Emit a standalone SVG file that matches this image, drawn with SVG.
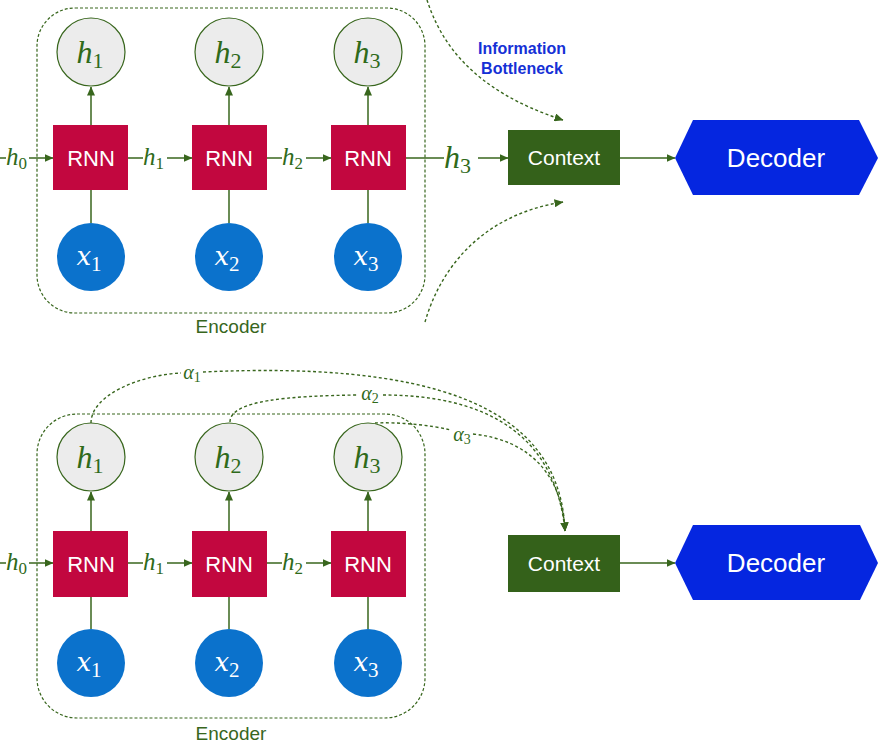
<svg xmlns="http://www.w3.org/2000/svg" width="878" height="744" viewBox="0 0 878 744">
<defs>
<marker id="arr" markerWidth="9" markerHeight="8" refX="8.5" refY="4" orient="auto" markerUnits="userSpaceOnUse">
<path d="M0,0 L9,4 L0,8 Z" fill="#38661d"/>
</marker>
</defs>
<style>
.enc{fill:none;stroke:#38661d;stroke-width:1.2;stroke-dasharray:3 2}
.hc{fill:#ececec;stroke:#38661d;stroke-width:1.2}
.rnn{fill:#c2073f}
.xc{fill:#0b72cc}
.ctx{fill:#34611a}
.dec{fill:#0526e0}
.ln{fill:none;stroke:#38661d;stroke-width:1.5}
.da{fill:none;stroke:#38661d;stroke-width:1.4;stroke-dasharray:3 2.5}
.sans{font-family:"Liberation Sans",Arial,sans-serif;fill:#fff;text-anchor:middle}
.math{font-family:"Liberation Serif","Times New Roman",serif;font-style:italic}
.up{font-style:normal}
.xv{font-family:"DejaVu Serif",serif;font-style:italic;font-size:26px}
.gm{fill:#2f6a1a}
.wm{fill:#fff}
.lbl{font-family:"Liberation Sans",Arial,sans-serif;fill:#38661d;font-size:19px;text-anchor:middle}
.ib{font-family:"Liberation Sans",Arial,sans-serif;fill:#1530d6;font-size:16px;font-weight:bold;text-anchor:middle}
</style>

<!-- ===== TOP ===== -->
<g id="top-encoder"><rect class="enc" x="37" y="8" width="388" height="305" rx="38"/><text class="lbl" x="231" y="333">Encoder</text></g>

<g id="connectors-top">
<path class="ln" d="M91,125 V87" marker-end="url(#arr)"/>
<path class="ln" d="M229,125 V87" marker-end="url(#arr)"/>
<path class="ln" d="M368,125 V87" marker-end="url(#arr)"/>
<path class="ln" d="M91,223 V190"/>
<path class="ln" d="M229,223 V190"/>
<path class="ln" d="M368,223 V190"/>
<path class="ln" d="M0,158 H6"/>
<path class="ln" d="M29,158 H53" marker-end="url(#arr)"/>
<path class="ln" d="M128,158 H143"/>
<path class="ln" d="M167,158 H192" marker-end="url(#arr)"/>
<path class="ln" d="M267,158 H282"/>
<path class="ln" d="M306,158 H331" marker-end="url(#arr)"/>
<path class="ln" d="M406,158 H444"/>
<path class="ln" d="M478,158 H508" marker-end="url(#arr)"/>
<path class="ln" d="M620,158 H675" marker-end="url(#arr)"/>
<path class="da" d="M427,0 C440,40 470,90 563,120" marker-end="url(#arr)"/>
<path class="da" d="M425,322 C440,270 480,215 563,202" marker-end="url(#arr)"/>
<text class="math gm" x="6" y="165" font-size="25">h<tspan class="up" font-size="17" dy="4">0</tspan></text>
<text class="math gm" x="143" y="165" font-size="25">h<tspan class="up" font-size="17" dy="4">1</tspan></text>
<text class="math gm" x="282" y="165" font-size="25">h<tspan class="up" font-size="17" dy="4">2</tspan></text>
<text class="math gm" x="444" y="168" font-size="32">h<tspan class="up" font-size="22" dy="5">3</tspan></text>
</g>

<g id="top-h1"><circle class="hc" cx="91" cy="52" r="34"/><text class="math gm" x="90" y="63" font-size="32" text-anchor="middle">h<tspan class="up" font-size="22" dy="5">1</tspan></text></g>
<g id="top-h2"><circle class="hc" cx="229" cy="52" r="34"/><text class="math gm" x="228" y="63" font-size="32" text-anchor="middle">h<tspan class="up" font-size="22" dy="5">2</tspan></text></g>
<g id="top-h3"><circle class="hc" cx="368" cy="52" r="34"/><text class="math gm" x="367" y="63" font-size="32" text-anchor="middle">h<tspan class="up" font-size="22" dy="5">3</tspan></text></g>

<g id="top-rnn1"><rect class="rnn" x="53" y="125" width="75" height="65"/><text class="sans" x="91" y="166" font-size="22">RNN</text></g>
<g id="top-rnn2"><rect class="rnn" x="192" y="125" width="75" height="65"/><text class="sans" x="229" y="166" font-size="22">RNN</text></g>
<g id="top-rnn3"><rect class="rnn" x="331" y="125" width="75" height="65"/><text class="sans" x="368" y="166" font-size="22">RNN</text></g>

<g id="top-x1"><circle class="xc" cx="91" cy="257" r="34"/><text class="wm" x="89" y="265" text-anchor="middle"><tspan class="xv">x</tspan><tspan class="math up" font-size="21" dy="6">1</tspan></text></g>
<g id="top-x2"><circle class="xc" cx="229" cy="257" r="34"/><text class="wm" x="227" y="265" text-anchor="middle"><tspan class="xv">x</tspan><tspan class="math up" font-size="21" dy="6">2</tspan></text></g>
<g id="top-x3"><circle class="xc" cx="368" cy="257" r="34"/><text class="wm" x="366" y="265" text-anchor="middle"><tspan class="xv">x</tspan><tspan class="math up" font-size="21" dy="6">3</tspan></text></g>

<g id="bottleneck-label"><text class="ib" x="522" y="54">Information</text><text class="ib" x="522" y="74">Bottleneck</text></g>

<g id="top-context"><rect class="ctx" x="508" y="130" width="112" height="55"/><text class="sans" x="564" y="165" font-size="21">Context</text></g>
<g id="top-decoder"><polygon class="dec" points="675,158 693,120 859,120 878,158 859,195 693,195"/><text class="sans" x="776" y="167" font-size="26">Decoder</text></g>

<!-- ===== BOTTOM ===== -->
<g id="bottom-encoder"><rect class="enc" x="37" y="414" width="388" height="304" rx="40"/><text class="lbl" x="231" y="740">Encoder</text></g>

<g id="connectors-bottom">
<path class="ln" d="M91,531 V492" marker-end="url(#arr)"/>
<path class="ln" d="M229,531 V492" marker-end="url(#arr)"/>
<path class="ln" d="M368,531 V492" marker-end="url(#arr)"/>
<path class="ln" d="M91,629 V597"/>
<path class="ln" d="M229,629 V597"/>
<path class="ln" d="M368,629 V597"/>
<path class="ln" d="M0,563 H6"/>
<path class="ln" d="M29,563 H53" marker-end="url(#arr)"/>
<path class="ln" d="M128,563 H143"/>
<path class="ln" d="M167,563 H192" marker-end="url(#arr)"/>
<path class="ln" d="M267,563 H282"/>
<path class="ln" d="M306,563 H331" marker-end="url(#arr)"/>
<path class="ln" d="M620,563 H675" marker-end="url(#arr)"/>
<text class="math gm" x="6" y="570" font-size="25">h<tspan class="up" font-size="17" dy="4">0</tspan></text>
<text class="math gm" x="143" y="570" font-size="25">h<tspan class="up" font-size="17" dy="4">1</tspan></text>
<text class="math gm" x="282" y="570" font-size="25">h<tspan class="up" font-size="17" dy="4">2</tspan></text>
<path class="da" d="M91,423 C91,395 140,375 181,373"/>
<path class="da" d="M203,372 C420,362 560,400 565,531" marker-end="url(#arr)"/>
<path class="da" d="M230,422 C230,400 290,396 357,395"/>
<path class="da" d="M383,395 C480,395 555,430 565,531" marker-end="url(#arr)"/>
<path class="da" d="M375,423 C400,422 430,425 451,430"/>
<path class="da" d="M473,434 C530,440 562,475 565,531" marker-end="url(#arr)"/>
<text class="math gm" x="192" y="379" font-size="20" text-anchor="middle">α<tspan class="up" font-size="14" dy="3">1</tspan></text>
<text class="math gm" x="370" y="400" font-size="20" text-anchor="middle">α<tspan class="up" font-size="14" dy="3">2</tspan></text>
<text class="math gm" x="462" y="441" font-size="20" text-anchor="middle">α<tspan class="up" font-size="14" dy="3">3</tspan></text>
</g>

<g id="bottom-h1"><circle class="hc" cx="91" cy="457" r="34"/><text class="math gm" x="90" y="468" font-size="32" text-anchor="middle">h<tspan class="up" font-size="22" dy="5">1</tspan></text></g>
<g id="bottom-h2"><circle class="hc" cx="229" cy="457" r="34"/><text class="math gm" x="228" y="468" font-size="32" text-anchor="middle">h<tspan class="up" font-size="22" dy="5">2</tspan></text></g>
<g id="bottom-h3"><circle class="hc" cx="368" cy="457" r="34"/><text class="math gm" x="367" y="468" font-size="32" text-anchor="middle">h<tspan class="up" font-size="22" dy="5">3</tspan></text></g>

<g id="bottom-rnn1"><rect class="rnn" x="53" y="531" width="75" height="66"/><text class="sans" x="91" y="572" font-size="22">RNN</text></g>
<g id="bottom-rnn2"><rect class="rnn" x="192" y="531" width="75" height="66"/><text class="sans" x="229" y="572" font-size="22">RNN</text></g>
<g id="bottom-rnn3"><rect class="rnn" x="331" y="531" width="75" height="66"/><text class="sans" x="368" y="572" font-size="22">RNN</text></g>

<g id="bottom-x1"><circle class="xc" cx="91" cy="663" r="34"/><text class="wm" x="89" y="671" text-anchor="middle"><tspan class="xv">x</tspan><tspan class="math up" font-size="21" dy="6">1</tspan></text></g>
<g id="bottom-x2"><circle class="xc" cx="229" cy="663" r="34"/><text class="wm" x="227" y="671" text-anchor="middle"><tspan class="xv">x</tspan><tspan class="math up" font-size="21" dy="6">2</tspan></text></g>
<g id="bottom-x3"><circle class="xc" cx="368" cy="663" r="34"/><text class="wm" x="366" y="671" text-anchor="middle"><tspan class="xv">x</tspan><tspan class="math up" font-size="21" dy="6">3</tspan></text></g>

<g id="bottom-context"><rect class="ctx" x="508" y="535" width="112" height="57"/><text class="sans" x="564" y="571" font-size="21">Context</text></g>
<g id="bottom-decoder"><polygon class="dec" points="675,563 693,525 860,525 878,563 860,600 693,600"/><text class="sans" x="776" y="572" font-size="26">Decoder</text></g>
</svg>
